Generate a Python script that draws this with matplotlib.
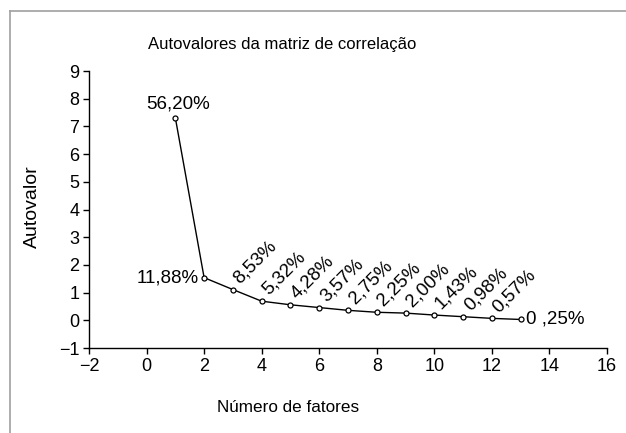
import matplotlib
matplotlib.use("Agg")
import matplotlib.pyplot as plt
from matplotlib.lines import Line2D

plt.rcParams['font.family'] = ['Liberation Sans', 'DejaVu Sans']

factors = [1, 2, 3, 4, 5, 6, 7, 8, 9, 10, 11, 12, 13]
eigenvalues = [7.31, 1.54, 1.11, 0.69, 0.56, 0.46, 0.36, 0.29, 0.26, 0.19, 0.13, 0.07, 0.03]
pct_labels = ["56,20%", "11,88%", "8,53%", "5,32%", "4,28%", "3,57%", "2,75%",
              "2,25%", "2,00%", "1,43%", "0,98%", "0,57%", "0 ,25%"]
xticks = [-2, 0, 2, 4, 6, 8, 10, 12, 14, 16]
yticks = [-1, 0, 1, 2, 3, 4, 5, 6, 7, 8, 9]

fig = plt.figure(figsize=(6.26, 4.33), dpi=100)
ax = fig.add_axes([0.1422, 0.1963, 0.8274, 0.6397])

ax.plot(factors, eigenvalues, color='black', lw=1.0, marker='o', markersize=3.6,
        markerfacecolor='white', markeredgecolor='black', markeredgewidth=0.9, clip_on=False)

ax.set_xlim(-2, 16)
ax.set_ylim(-1, 9)
ax.set_xticks(xticks)
ax.set_yticks(yticks)
ax.set_xticklabels([str(t).replace('-', '\u2212') for t in xticks])
ax.set_yticklabels([str(t).replace('-', '\u2212') for t in yticks])
for s in ['top', 'right']:
    ax.spines[s].set_visible(False)
for s in ['left', 'bottom']:
    ax.spines[s].set_linewidth(1.0)
ax.tick_params(direction='out', length=4, width=1.0, labelsize=13, pad=3)

pfs = 13.5
for i, (x, y, lab) in enumerate(zip(factors, eigenvalues, pct_labels)):
    if i == 0:
        ax.annotate(lab, (x, y), xytext=(2, 4), textcoords='offset points',
                    ha='center', va='bottom', fontsize=pfs)
    elif i == 1:
        ax.annotate(lab, (x, y), xytext=(-4, 0), textcoords='offset points',
                    ha='right', va='center', fontsize=pfs)
    elif i == len(factors) - 1:
        ax.annotate(lab, (x, y), xytext=(4, 0), textcoords='offset points',
                    ha='left', va='center', fontsize=pfs)
    else:
        ax.annotate(lab, (x, y), xytext=(7, 2), textcoords='offset points',
                    ha='left', va='bottom', rotation=45, rotation_mode='anchor',
                    fontsize=pfs)

fig.text(282 / 626, 1 - 45 / 433, "Autovalores da matriz de correlação",
         ha='center', va='center', fontsize=12)
fig.text(288 / 626, 1 - 407 / 433, "Número de fatores",
         ha='center', va='center', fontsize=12.3)
fig.text(32 / 626, 1 - 207 / 433, "Autovalor", ha='center', va='center',
         rotation=90, fontsize=14)

# outer frame (top and left visible)
fig.add_artist(Line2D([9.5 / 626, 1.0], [1 - 10.5 / 433, 1 - 10.5 / 433],
                      transform=fig.transFigure, color='#a0a0a0', lw=1.2))
fig.add_artist(Line2D([9.5 / 626, 9.5 / 626], [0, 1 - 10.5 / 433],
                      transform=fig.transFigure, color='#a0a0a0', lw=1.2))

fig.savefig("out.png", dpi=100)
